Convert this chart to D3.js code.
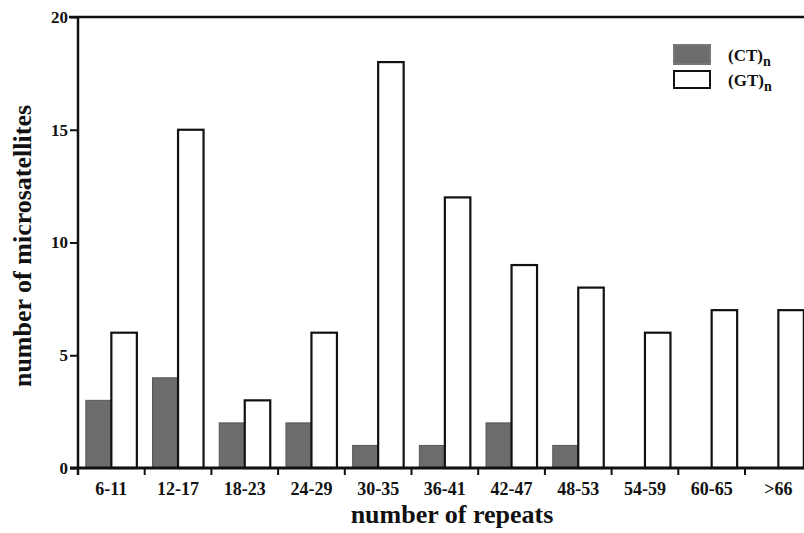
<!DOCTYPE html>
<html><head><meta charset="utf-8">
<script src="https://cdn.jsdelivr.net/npm/d3@7"></script>
<style>body{margin:0;background:#fff}svg{display:block}</style>
</head><body><svg id="c" width="804" height="533"></svg>
<script>
const categories = ["6-11","12-17","18-23","24-29","30-35","36-41","42-47","48-53","54-59","60-65",">66"];
const ctValues = [3,4,2,2,1,1,2,1,0,0,0];
const gtValues = [6,15,3,6,18,12,9,8,6,7,7];
const series = ["CT","GT"];
const yTicks = [0,5,10,15,20];

(function(){
const FONT = "'Liberation Serif', 'Times New Roman', serif";
const svg = d3.select("#c");
const mLeft = 78, mTop = 17, mBottom = 468, bandW = 66.7;
const x = d3.scaleBand().domain(categories).range([mLeft, mLeft + bandW*categories.length]).padding(0);
const y = d3.scaleLinear().domain([0,20]).range([mBottom, mTop]);
const groupW = 51;
const x1 = d3.scaleBand().domain(series).range([(x.bandwidth()-groupW)/2, (x.bandwidth()+groupW)/2]).padding(0);

const data = categories.map((c,i)=>({cat:c, CT:ctValues[i], GT:gtValues[i]}));

svg.append("line").attr("x1", mLeft-9).attr("x2", 804).attr("y1", y(20)).attr("y2", y(20)).attr("stroke","#111").attr("stroke-width",2.5);

const g = svg.append("g");
data.forEach(d=>{
  const gx = x(d.cat);
  if (d.CT > 0) {
    g.append("rect").attr("x", gx + x1("CT")).attr("y", y(d.CT)).attr("width", x1.bandwidth()).attr("height", y(0)-y(d.CT))
      .attr("fill","#6c6c6c").attr("stroke","#555").attr("stroke-width",1);
  }
  g.append("rect").attr("x", gx + x1("GT")).attr("y", y(d.GT)).attr("width", x1.bandwidth()).attr("height", y(0)-y(d.GT))
    .attr("fill","#fff").attr("stroke","#111").attr("stroke-width",2.2);
});

const ya = svg.append("g").attr("transform",`translate(${mLeft},0)`)
  .call(d3.axisLeft(y).tickValues(yTicks).tickSize(8).tickPadding(2));
ya.select(".domain").remove();
ya.selectAll(".tick line").attr("stroke","#111").attr("stroke-width",2);
ya.selectAll(".tick text").style("font-size","17px").style("font-family",FONT).style("font-weight","bold").attr("fill","#111");
svg.append("line").attr("x1",mLeft).attr("x2",mLeft).attr("y1",y(20)).attr("y2",y(0)+7).attr("stroke","#111").attr("stroke-width",2.5);

svg.append("line").attr("x1",mLeft-8).attr("x2",804).attr("y1",y(0)).attr("y2",y(0)).attr("stroke","#111").attr("stroke-width",3);
const bounds = categories.map(c=>x(c)).concat([x(categories[categories.length-1])+x.bandwidth()]);
svg.selectAll(".xt").data(bounds).enter().append("line").attr("class","xt")
  .attr("x1",d=>d).attr("x2",d=>d).attr("y1",y(0)).attr("y2",y(0)+7).attr("stroke","#111").attr("stroke-width",2);
const xa = svg.append("g").attr("transform",`translate(0,${y(0)})`)
  .call(d3.axisBottom(x).tickSize(0).tickPadding(14));
xa.select(".domain").remove();
xa.selectAll(".tick text").style("font-size","18px").style("font-family",FONT).style("font-weight","bold").attr("fill","#111");

svg.append("text").attr("x", 452).attr("y", 523).attr("text-anchor","middle")
  .style("font-family",FONT).style("font-weight","bold").style("font-size","26px").attr("fill","#111").text("number of repeats");
svg.append("text").attr("transform",`translate(31,246) rotate(-90)`).attr("text-anchor","middle")
  .style("font-family",FONT).style("font-weight","bold").style("font-size","26px").attr("fill","#111").text("number of microsatellites");

const leg = svg.append("g");
const legItems = [{s:"CT", fill:"#6c6c6c", stroke:"#777", y:45, h:19},{s:"GT", fill:"#fff", stroke:"#111", y:71, h:17}];
legItems.forEach((it,i)=>{
  leg.append("rect").attr("x",674).attr("y",it.y).attr("width",36).attr("height",it.h).attr("fill",it.fill).attr("stroke",it.stroke).attr("stroke-width",2);
  const t = leg.append("text").attr("x",728).attr("y",it.y + it.h/2 + 6)
    .style("font-family",FONT).style("font-size","17px").style("font-weight","bold").attr("fill","#111");
  t.append("tspan").text("("+it.s+")");
  t.append("tspan").attr("dy",5).style("font-size","14px").text("n");
});
})();
</script></body></html>
